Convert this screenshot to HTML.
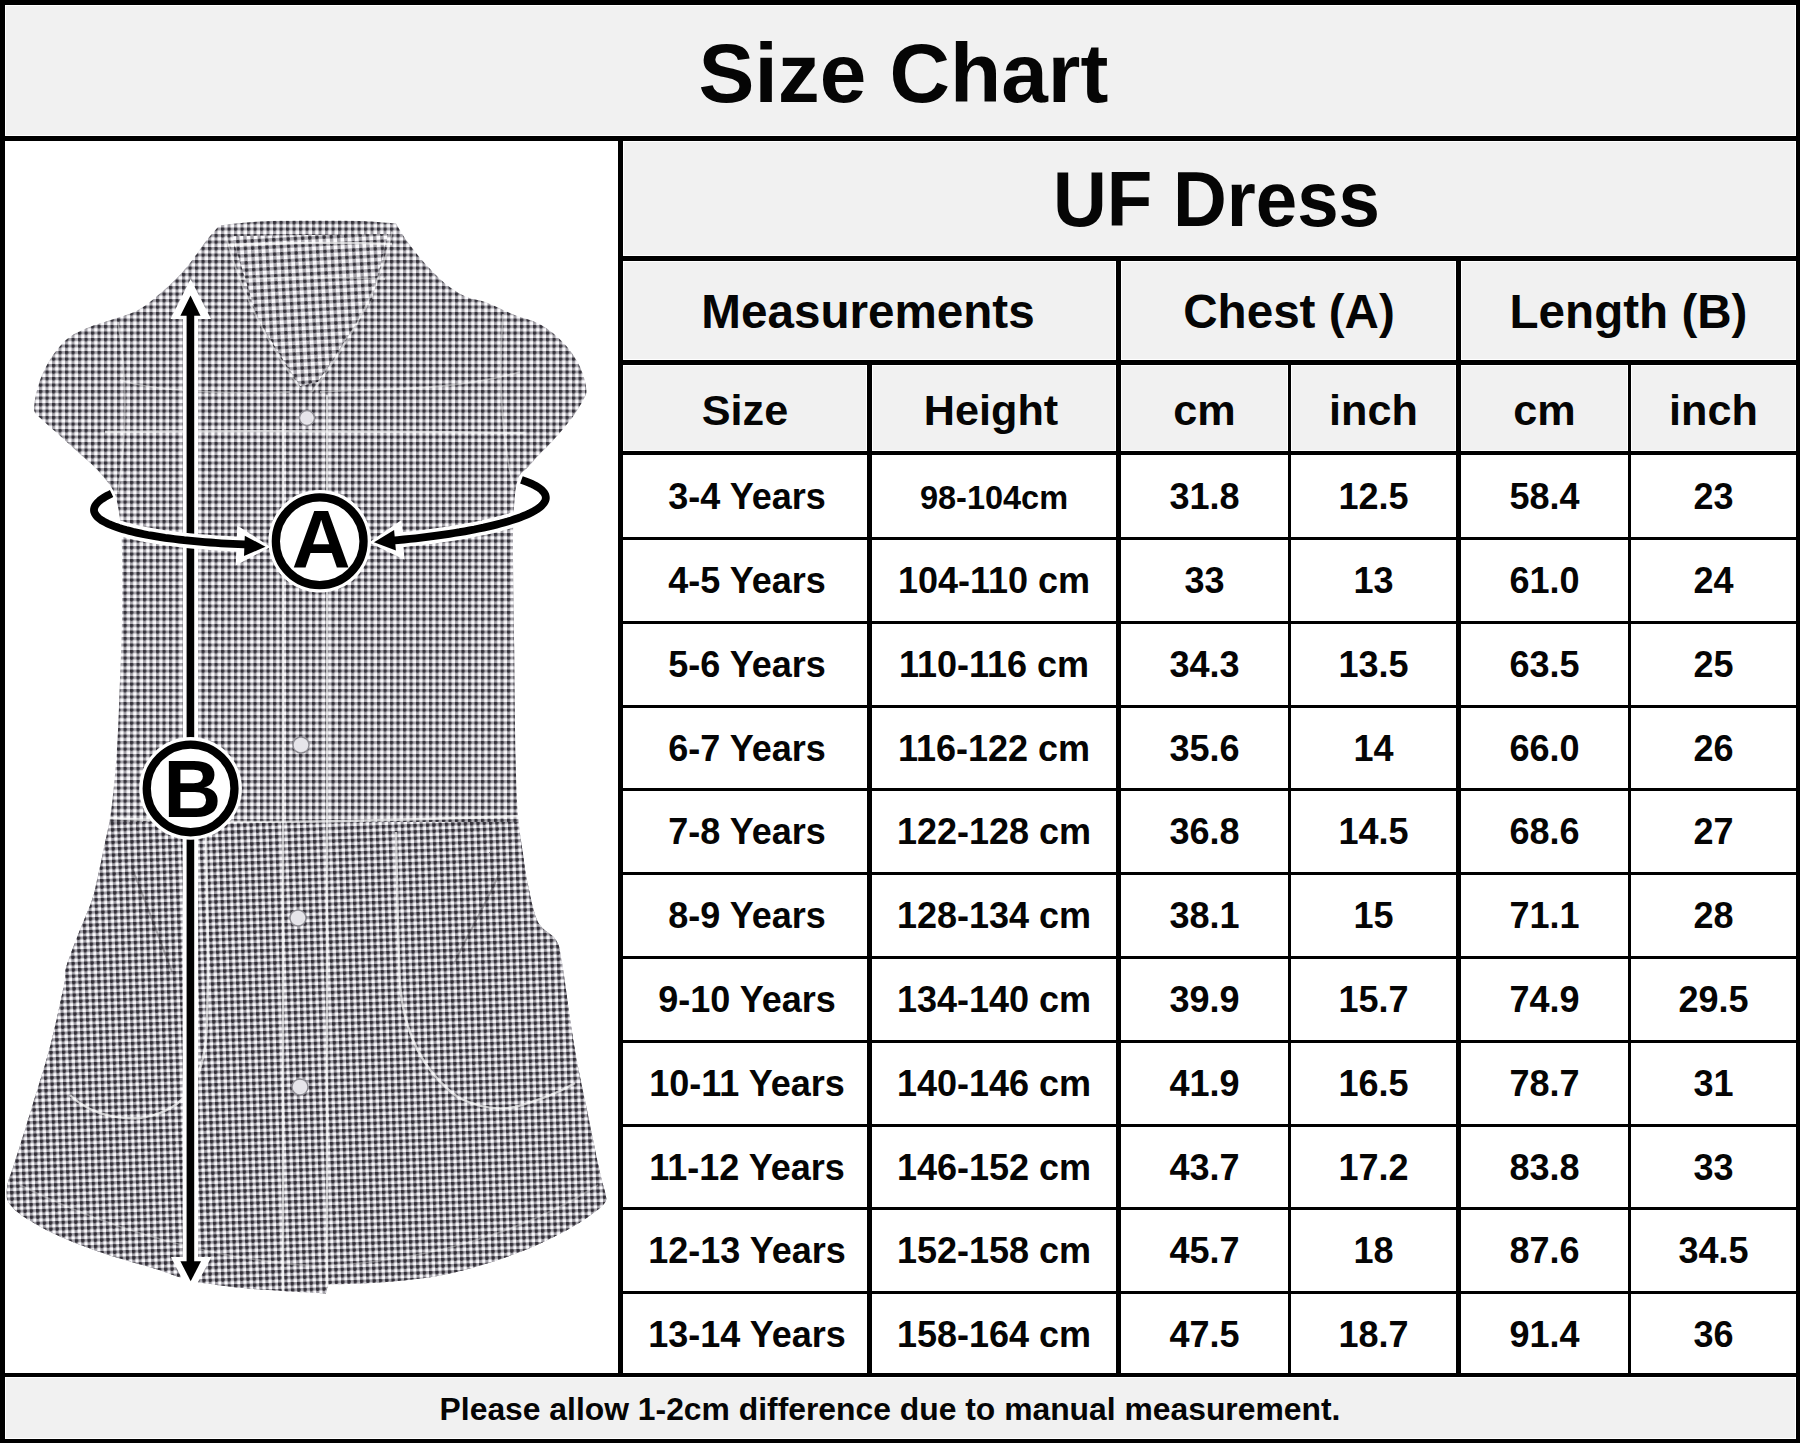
<!DOCTYPE html>
<html><head><meta charset="utf-8"><title>Size Chart</title>
<style>
html,body{margin:0;padding:0;}
body{width:1800px;height:1443px;position:relative;overflow:hidden;background:#000;font-family:"Liberation Sans",sans-serif;font-weight:bold;color:#000;}
.c{position:absolute;box-sizing:border-box;}
.g{background:#f1f1f1;border:1.5px solid #fff;}
.w{background:#fff;}
.t{position:absolute;text-align:center;white-space:nowrap;line-height:1;color:#050505;}
svg{position:absolute;left:0;top:0;}
</style></head><body>
<div class="c g" style="left:5px;top:5px;width:1791px;height:131px"></div>
<div class="c w" style="left:5px;top:141px;width:613px;height:1232px"></div>
<div class="c g" style="left:623px;top:141px;width:1173px;height:115px"></div>
<div class="c g" style="left:623px;top:261px;width:493px;height:99px"></div>
<div class="c g" style="left:1121px;top:261px;width:335px;height:99px"></div>
<div class="c g" style="left:1461px;top:261px;width:335px;height:99px"></div>
<div class="c g" style="left:623px;top:365px;width:244px;height:86px"></div>
<div class="c g" style="left:872px;top:365px;width:244px;height:86px"></div>
<div class="c g" style="left:1121px;top:365px;width:167px;height:86px"></div>
<div class="c g" style="left:1291px;top:365px;width:165px;height:86px"></div>
<div class="c g" style="left:1461px;top:365px;width:167px;height:86px"></div>
<div class="c g" style="left:1631px;top:365px;width:165px;height:86px"></div>
<div class="c w" style="left:623px;top:455px;width:244px;height:82px"></div>
<div class="c w" style="left:872px;top:455px;width:244px;height:82px"></div>
<div class="c w" style="left:1121px;top:455px;width:167px;height:82px"></div>
<div class="c w" style="left:1291px;top:455px;width:165px;height:82px"></div>
<div class="c w" style="left:1461px;top:455px;width:167px;height:82px"></div>
<div class="c w" style="left:1631px;top:455px;width:165px;height:82px"></div>
<div class="c w" style="left:623px;top:540px;width:244px;height:81px"></div>
<div class="c w" style="left:872px;top:540px;width:244px;height:81px"></div>
<div class="c w" style="left:1121px;top:540px;width:167px;height:81px"></div>
<div class="c w" style="left:1291px;top:540px;width:165px;height:81px"></div>
<div class="c w" style="left:1461px;top:540px;width:167px;height:81px"></div>
<div class="c w" style="left:1631px;top:540px;width:165px;height:81px"></div>
<div class="c w" style="left:623px;top:624px;width:244px;height:81px"></div>
<div class="c w" style="left:872px;top:624px;width:244px;height:81px"></div>
<div class="c w" style="left:1121px;top:624px;width:167px;height:81px"></div>
<div class="c w" style="left:1291px;top:624px;width:165px;height:81px"></div>
<div class="c w" style="left:1461px;top:624px;width:167px;height:81px"></div>
<div class="c w" style="left:1631px;top:624px;width:165px;height:81px"></div>
<div class="c w" style="left:623px;top:708px;width:244px;height:80px"></div>
<div class="c w" style="left:872px;top:708px;width:244px;height:80px"></div>
<div class="c w" style="left:1121px;top:708px;width:167px;height:80px"></div>
<div class="c w" style="left:1291px;top:708px;width:165px;height:80px"></div>
<div class="c w" style="left:1461px;top:708px;width:167px;height:80px"></div>
<div class="c w" style="left:1631px;top:708px;width:165px;height:80px"></div>
<div class="c w" style="left:623px;top:791px;width:244px;height:81px"></div>
<div class="c w" style="left:872px;top:791px;width:244px;height:81px"></div>
<div class="c w" style="left:1121px;top:791px;width:167px;height:81px"></div>
<div class="c w" style="left:1291px;top:791px;width:165px;height:81px"></div>
<div class="c w" style="left:1461px;top:791px;width:167px;height:81px"></div>
<div class="c w" style="left:1631px;top:791px;width:165px;height:81px"></div>
<div class="c w" style="left:623px;top:875px;width:244px;height:81px"></div>
<div class="c w" style="left:872px;top:875px;width:244px;height:81px"></div>
<div class="c w" style="left:1121px;top:875px;width:167px;height:81px"></div>
<div class="c w" style="left:1291px;top:875px;width:165px;height:81px"></div>
<div class="c w" style="left:1461px;top:875px;width:167px;height:81px"></div>
<div class="c w" style="left:1631px;top:875px;width:165px;height:81px"></div>
<div class="c w" style="left:623px;top:959px;width:244px;height:81px"></div>
<div class="c w" style="left:872px;top:959px;width:244px;height:81px"></div>
<div class="c w" style="left:1121px;top:959px;width:167px;height:81px"></div>
<div class="c w" style="left:1291px;top:959px;width:165px;height:81px"></div>
<div class="c w" style="left:1461px;top:959px;width:167px;height:81px"></div>
<div class="c w" style="left:1631px;top:959px;width:165px;height:81px"></div>
<div class="c w" style="left:623px;top:1043px;width:244px;height:81px"></div>
<div class="c w" style="left:872px;top:1043px;width:244px;height:81px"></div>
<div class="c w" style="left:1121px;top:1043px;width:167px;height:81px"></div>
<div class="c w" style="left:1291px;top:1043px;width:165px;height:81px"></div>
<div class="c w" style="left:1461px;top:1043px;width:167px;height:81px"></div>
<div class="c w" style="left:1631px;top:1043px;width:165px;height:81px"></div>
<div class="c w" style="left:623px;top:1127px;width:244px;height:80px"></div>
<div class="c w" style="left:872px;top:1127px;width:244px;height:80px"></div>
<div class="c w" style="left:1121px;top:1127px;width:167px;height:80px"></div>
<div class="c w" style="left:1291px;top:1127px;width:165px;height:80px"></div>
<div class="c w" style="left:1461px;top:1127px;width:167px;height:80px"></div>
<div class="c w" style="left:1631px;top:1127px;width:165px;height:80px"></div>
<div class="c w" style="left:623px;top:1210px;width:244px;height:81px"></div>
<div class="c w" style="left:872px;top:1210px;width:244px;height:81px"></div>
<div class="c w" style="left:1121px;top:1210px;width:167px;height:81px"></div>
<div class="c w" style="left:1291px;top:1210px;width:165px;height:81px"></div>
<div class="c w" style="left:1461px;top:1210px;width:167px;height:81px"></div>
<div class="c w" style="left:1631px;top:1210px;width:165px;height:81px"></div>
<div class="c w" style="left:623px;top:1294px;width:244px;height:79px"></div>
<div class="c w" style="left:872px;top:1294px;width:244px;height:79px"></div>
<div class="c w" style="left:1121px;top:1294px;width:167px;height:79px"></div>
<div class="c w" style="left:1291px;top:1294px;width:165px;height:79px"></div>
<div class="c w" style="left:1461px;top:1294px;width:167px;height:79px"></div>
<div class="c w" style="left:1631px;top:1294px;width:165px;height:79px"></div>
<div class="c g" style="left:5px;top:1377px;width:1791px;height:62px"></div>
<svg width="620" height="1443" viewBox="0 0 620 1443">
<defs>
<pattern id="gh" width="6.5" height="6.5" patternUnits="userSpaceOnUse">
<rect width="6.5" height="6.5" fill="#fcfbfe"/>
<rect width="3.1" height="6.5" fill="#a6a4ab"/>
<rect width="6.5" height="3.1" fill="#a6a4ab"/>
<circle cx="1.55" cy="1.55" r="1.9" fill="#34323a"/>
</pattern>
<pattern id="gh2" width="7.2" height="7.2" patternUnits="userSpaceOnUse" patternTransform="rotate(-3)">
<rect width="7.2" height="7.2" fill="#fbfafd"/>
<rect width="3.4" height="7.2" fill="#a9a7ae"/>
<rect width="7.2" height="3.4" fill="#a9a7ae"/>
<circle cx="1.7" cy="1.7" r="1.85" fill="#34323a"/>
</pattern>
<pattern id="gh3" width="6.3" height="6.3" patternUnits="userSpaceOnUse" patternTransform="rotate(-2)">
<rect width="6.3" height="6.3" fill="#fbfafd"/>
<rect width="3.1" height="6.3" fill="#a19fa7"/>
<rect width="6.3" height="3.1" fill="#a19fa7"/>
<circle cx="1.55" cy="1.55" r="1.95" fill="#322f37"/>
</pattern>
<filter id="bl" x="-2%" y="-2%" width="104%" height="104%"><feGaussianBlur stdDeviation="0.7"/></filter>
<clipPath id="dc"><path d="M219.5,225.5 C219.5,225.5 244.9,222.3 260.0,221.5 C275.1,220.7 293.3,220.6 310.0,220.5 C326.7,220.4 345.7,220.5 360.0,221.0 C374.3,221.5 396.0,223.5 396.0,223.5 C396.0,223.5 402.6,235.1 407.3,241.6 C412.0,248.1 417.8,255.5 424.0,262.4 C430.2,269.3 437.8,277.5 444.7,283.2 C451.6,288.9 458.7,293.3 465.5,296.5 C472.3,299.7 477.8,299.2 485.7,302.2 C493.6,305.2 505.6,311.3 513.2,314.4 C520.8,317.4 526.4,318.5 531.5,320.5 C536.6,322.5 539.6,324.1 543.7,326.6 C547.8,329.1 551.9,332.1 555.9,335.7 C559.9,339.2 564.5,343.6 568.0,347.9 C571.5,352.2 574.7,357.0 577.2,361.6 C579.8,366.2 581.8,370.8 583.3,375.4 C584.8,380.0 586.0,385.5 586.3,389.1 C586.5,392.7 586.8,392.7 584.8,397.0 C582.8,401.3 577.9,409.5 574.1,415.0 C570.3,420.5 566.0,425.4 562.0,430.2 C558.0,435.0 553.9,439.7 549.8,444.0 C545.7,448.3 541.2,452.4 537.6,456.2 C534.0,460.0 531.5,463.5 528.4,466.8 C525.3,470.1 521.4,472.1 519.3,476.0 C517.1,479.9 515.5,490.0 515.5,490.0 C515.5,490.0 513.2,508.9 513.0,535.0 C512.8,561.0 513.8,609.3 514.2,646.3 C514.6,683.3 515.0,729.1 515.6,757.2 C516.2,785.3 516.8,798.9 518.0,815.0 C519.2,831.1 521.3,842.3 523.0,854.0 C524.7,865.7 525.5,873.7 528.0,885.0 C530.5,896.3 533.3,912.8 538.0,922.0 C542.7,931.2 552.0,933.2 556.0,940.0 C560.0,946.8 558.9,945.2 562.0,963.0 C565.1,980.8 570.2,1022.6 574.4,1047.0 C578.5,1071.4 582.7,1089.0 586.9,1109.5 C591.1,1130.0 596.5,1156.6 599.4,1170.0 C602.3,1183.4 603.3,1185.2 604.5,1190.0 C605.7,1194.8 606.5,1199.0 606.5,1199.0 C606.5,1199.0 605.8,1203.6 599.4,1208.6 C593.0,1213.6 582.2,1221.8 568.4,1229.2 C554.6,1236.7 536.8,1245.8 516.7,1253.3 C496.6,1260.8 470.8,1269.1 447.8,1274.0 C424.9,1278.9 399.0,1280.8 379.0,1282.6 C359.0,1284.3 328.0,1284.5 328.0,1284.5 C328.0,1284.5 326.0,1293.5 326.0,1293.5 C326.0,1293.5 300.2,1292.2 286.0,1291.2 C271.8,1290.2 256.5,1289.5 241.0,1287.8 C225.5,1286.1 207.3,1284.2 193.0,1281.0 C178.7,1277.8 169.9,1273.4 155.0,1268.8 C140.1,1264.2 120.5,1259.3 103.3,1253.3 C86.1,1247.3 66.0,1239.6 51.7,1232.7 C37.4,1225.8 24.6,1217.6 17.2,1212.0 C9.8,1206.4 7.0,1199.0 7.0,1199.0 C7.0,1199.0 6.1,1191.0 7.5,1184.4 C8.9,1177.8 11.7,1171.9 15.6,1159.4 C19.6,1146.9 25.5,1128.2 31.2,1109.5 C36.9,1090.8 44.4,1067.8 49.9,1047.0 C55.4,1026.2 61.3,998.2 64.0,985.0 C66.7,971.8 64.0,975.5 66.0,968.0 C68.0,960.5 71.7,951.3 76.0,940.0 C80.3,928.7 88.5,910.0 92.0,900.0 C95.5,890.0 95.2,887.6 97.0,880.0 C98.8,872.4 100.3,865.4 102.6,854.2 C104.9,843.0 108.6,828.8 110.9,812.6 C113.2,796.4 115.0,775.7 116.4,757.2 C117.8,738.7 118.3,724.9 119.2,701.8 C120.1,678.7 121.6,646.4 122.0,618.6 C122.4,590.8 122.5,555.3 121.5,535.0 C120.5,514.7 116.0,497.0 116.0,497.0 C116.0,497.0 114.0,491.4 111.5,487.5 C109.0,483.6 104.6,478.1 100.8,473.8 C97.0,469.5 93.2,465.9 88.6,461.6 C84.0,457.3 78.5,452.5 73.4,447.9 C68.3,443.3 63.2,438.7 58.1,434.1 C53.0,429.5 46.8,423.9 42.9,420.4 C39.0,416.8 36.4,415.6 35.0,412.8 C33.6,410.0 34.0,408.3 34.5,403.7 C35.0,399.1 36.4,391.5 38.3,385.4 C40.2,379.3 42.8,372.9 45.9,367.0 C49.0,361.1 52.5,355.4 56.6,350.3 C60.7,345.2 65.0,340.4 70.3,336.6 C75.6,332.8 81.7,330.2 88.6,327.4 C95.5,324.6 103.5,322.5 111.5,319.8 C119.5,317.1 129.1,314.7 136.4,311.0 C143.7,307.3 148.9,302.7 155.1,297.7 C161.3,292.7 167.9,287.0 173.8,281.1 C179.7,275.2 185.1,269.1 190.5,262.4 C195.9,255.7 201.2,247.2 206.0,241.0 C210.8,234.8 219.5,225.5 219.5,225.5Z"/></clipPath>
</defs>
<g filter="url(#bl)">
<path d="M219.5,225.5 C219.5,225.5 244.9,222.3 260.0,221.5 C275.1,220.7 293.3,220.6 310.0,220.5 C326.7,220.4 345.7,220.5 360.0,221.0 C374.3,221.5 396.0,223.5 396.0,223.5 C396.0,223.5 402.6,235.1 407.3,241.6 C412.0,248.1 417.8,255.5 424.0,262.4 C430.2,269.3 437.8,277.5 444.7,283.2 C451.6,288.9 458.7,293.3 465.5,296.5 C472.3,299.7 477.8,299.2 485.7,302.2 C493.6,305.2 505.6,311.3 513.2,314.4 C520.8,317.4 526.4,318.5 531.5,320.5 C536.6,322.5 539.6,324.1 543.7,326.6 C547.8,329.1 551.9,332.1 555.9,335.7 C559.9,339.2 564.5,343.6 568.0,347.9 C571.5,352.2 574.7,357.0 577.2,361.6 C579.8,366.2 581.8,370.8 583.3,375.4 C584.8,380.0 586.0,385.5 586.3,389.1 C586.5,392.7 586.8,392.7 584.8,397.0 C582.8,401.3 577.9,409.5 574.1,415.0 C570.3,420.5 566.0,425.4 562.0,430.2 C558.0,435.0 553.9,439.7 549.8,444.0 C545.7,448.3 541.2,452.4 537.6,456.2 C534.0,460.0 531.5,463.5 528.4,466.8 C525.3,470.1 521.4,472.1 519.3,476.0 C517.1,479.9 515.5,490.0 515.5,490.0 C515.5,490.0 513.2,508.9 513.0,535.0 C512.8,561.0 513.8,609.3 514.2,646.3 C514.6,683.3 515.0,729.1 515.6,757.2 C516.2,785.3 516.8,798.9 518.0,815.0 C519.2,831.1 521.3,842.3 523.0,854.0 C524.7,865.7 525.5,873.7 528.0,885.0 C530.5,896.3 533.3,912.8 538.0,922.0 C542.7,931.2 552.0,933.2 556.0,940.0 C560.0,946.8 558.9,945.2 562.0,963.0 C565.1,980.8 570.2,1022.6 574.4,1047.0 C578.5,1071.4 582.7,1089.0 586.9,1109.5 C591.1,1130.0 596.5,1156.6 599.4,1170.0 C602.3,1183.4 603.3,1185.2 604.5,1190.0 C605.7,1194.8 606.5,1199.0 606.5,1199.0 C606.5,1199.0 605.8,1203.6 599.4,1208.6 C593.0,1213.6 582.2,1221.8 568.4,1229.2 C554.6,1236.7 536.8,1245.8 516.7,1253.3 C496.6,1260.8 470.8,1269.1 447.8,1274.0 C424.9,1278.9 399.0,1280.8 379.0,1282.6 C359.0,1284.3 328.0,1284.5 328.0,1284.5 C328.0,1284.5 326.0,1293.5 326.0,1293.5 C326.0,1293.5 300.2,1292.2 286.0,1291.2 C271.8,1290.2 256.5,1289.5 241.0,1287.8 C225.5,1286.1 207.3,1284.2 193.0,1281.0 C178.7,1277.8 169.9,1273.4 155.0,1268.8 C140.1,1264.2 120.5,1259.3 103.3,1253.3 C86.1,1247.3 66.0,1239.6 51.7,1232.7 C37.4,1225.8 24.6,1217.6 17.2,1212.0 C9.8,1206.4 7.0,1199.0 7.0,1199.0 C7.0,1199.0 6.1,1191.0 7.5,1184.4 C8.9,1177.8 11.7,1171.9 15.6,1159.4 C19.6,1146.9 25.5,1128.2 31.2,1109.5 C36.9,1090.8 44.4,1067.8 49.9,1047.0 C55.4,1026.2 61.3,998.2 64.0,985.0 C66.7,971.8 64.0,975.5 66.0,968.0 C68.0,960.5 71.7,951.3 76.0,940.0 C80.3,928.7 88.5,910.0 92.0,900.0 C95.5,890.0 95.2,887.6 97.0,880.0 C98.8,872.4 100.3,865.4 102.6,854.2 C104.9,843.0 108.6,828.8 110.9,812.6 C113.2,796.4 115.0,775.7 116.4,757.2 C117.8,738.7 118.3,724.9 119.2,701.8 C120.1,678.7 121.6,646.4 122.0,618.6 C122.4,590.8 122.5,555.3 121.5,535.0 C120.5,514.7 116.0,497.0 116.0,497.0 C116.0,497.0 114.0,491.4 111.5,487.5 C109.0,483.6 104.6,478.1 100.8,473.8 C97.0,469.5 93.2,465.9 88.6,461.6 C84.0,457.3 78.5,452.5 73.4,447.9 C68.3,443.3 63.2,438.7 58.1,434.1 C53.0,429.5 46.8,423.9 42.9,420.4 C39.0,416.8 36.4,415.6 35.0,412.8 C33.6,410.0 34.0,408.3 34.5,403.7 C35.0,399.1 36.4,391.5 38.3,385.4 C40.2,379.3 42.8,372.9 45.9,367.0 C49.0,361.1 52.5,355.4 56.6,350.3 C60.7,345.2 65.0,340.4 70.3,336.6 C75.6,332.8 81.7,330.2 88.6,327.4 C95.5,324.6 103.5,322.5 111.5,319.8 C119.5,317.1 129.1,314.7 136.4,311.0 C143.7,307.3 148.9,302.7 155.1,297.7 C161.3,292.7 167.9,287.0 173.8,281.1 C179.7,275.2 185.1,269.1 190.5,262.4 C195.9,255.7 201.2,247.2 206.0,241.0 C210.8,234.8 219.5,225.5 219.5,225.5Z" fill="url(#gh)"/>
<g clip-path="url(#dc)">
<rect x="0" y="822" width="620" height="480" fill="url(#gh3)"/>
<path d="M232,236 L388,234 L372,300 L318,382 L300,386 L258,320 Z" fill="url(#gh2)"/>
<path d="M228,245 C280,243 340,242 392,244" fill="none" stroke="#ffffff" stroke-opacity="0.7" stroke-width="2.4"/>
<path d="M240,279 C290,277 340,277 385,279" fill="none" stroke="#ffffff" stroke-opacity="0.45" stroke-width="1.8"/>
<path d="M226,236 C240,290 265,340 300,388" fill="none" stroke="#ffffff" stroke-opacity="0.45" stroke-width="1.8"/>
<path d="M392,232 C380,290 350,340 312,392" fill="none" stroke="#ffffff" stroke-opacity="0.45" stroke-width="1.8"/>
<path d="M120,380 C150,390 220,395 290,392" fill="none" stroke="#ffffff" stroke-opacity="0.45" stroke-width="1.8"/>
<path d="M320,392 C380,388 450,392 520,372" fill="none" stroke="#ffffff" stroke-opacity="0.45" stroke-width="1.8"/>
<path d="M105,432 C200,431 300,430 525,433" fill="none" stroke="#ffffff" stroke-opacity="0.7" stroke-width="2.4"/>
<path d="M118,322 C128,380 126,440 118,492" fill="none" stroke="#ffffff" stroke-opacity="0.45" stroke-width="1.8"/>
<path d="M503,314 C498,380 502,440 514,490" fill="none" stroke="#ffffff" stroke-opacity="0.45" stroke-width="1.8"/>
<path d="M108,818 C200,823 300,824 522,816" fill="none" stroke="#ffffff" stroke-opacity="0.7" stroke-width="2.4"/>
<path d="M283,420 L283,1292" fill="none" stroke="#ffffff" stroke-opacity="0.7" stroke-width="2.4"/>
<path d="M327,395 L327,1286" fill="none" stroke="#ffffff" stroke-opacity="0.7" stroke-width="2.4"/>
<path d="M206,834 C207,900 210,980 206,1040 C200,1090 180,1112 140,1118 C110,1120 85,1110 70,1095" fill="none" stroke="#ffffff" stroke-opacity="0.7" stroke-width="2.4"/>
<path d="M132,868 C145,900 160,940 172,972" fill="none" stroke="#2a282e" stroke-opacity="0.35" stroke-width="2"/>
<path d="M396,832 C397,880 398,940 400,985 C404,1030 420,1070 459,1098 C480,1108 500,1110 515,1107 C540,1100 560,1092 575,1083" fill="none" stroke="#ffffff" stroke-opacity="0.7" stroke-width="2.4"/>
<path d="M500,872 C488,900 470,930 455,962" fill="none" stroke="#2a282e" stroke-opacity="0.35" stroke-width="2"/>
<path d="M20,1185 C120,1235 230,1262 320,1266 C420,1262 520,1235 598,1185" fill="none" stroke="#ffffff" stroke-opacity="0.35" stroke-width="1.8"/>
</g>
</g>
<circle cx="307" cy="418" r="7.5" fill="#e6e5ea" stroke="#8e8d94" stroke-width="1.4"/>
<circle cx="301" cy="745" r="8" fill="#e6e5ea" stroke="#8e8d94" stroke-width="1.4"/>
<circle cx="298" cy="918" r="8" fill="#e6e5ea" stroke="#8e8d94" stroke-width="1.4"/>
<circle cx="300" cy="1087" r="8" fill="#e6e5ea" stroke="#8e8d94" stroke-width="1.4"/>
<rect x="182.6" y="310" width="15.6" height="955" fill="#fff"/>
<path d="M190.6,279 L211,319 L170.5,319 Z" fill="#fff"/>
<path d="M190.6,1296 L211.5,1257 L171,1257 Z" fill="#fff"/>
<rect x="186.6" y="312" width="7.6" height="952" fill="#000"/>
<path d="M190.5,295.5 L200.5,315.7 L180.4,315.7 Z" fill="#000"/>
<path d="M190.7,1281.3 L201,1261.3 L180.4,1261.3 Z" fill="#000"/>
<path d="M111.6,493.6 L109.3,494.7 L107.1,495.8 L105.1,496.9 L103.2,498.1 L101.5,499.2 L100.0,500.3 L98.7,501.5 L97.5,502.6 L96.5,503.8 L95.7,504.9 L95.0,506.0 L94.5,507.2 L94.2,508.3 L94.0,509.4 L94.0,510.6 L94.2,511.7 L94.6,512.8 L95.1,513.9 L95.8,515.0 L96.7,516.1 L97.7,517.2 L98.9,518.3 L100.3,519.3 L101.8,520.4 L103.5,521.4 L105.4,522.4 L107.5,523.5 L109.6,524.5 L112.0,525.4 L114.5,526.4 L117.2,527.3 L120.0,528.3 L123.0,529.2 L126.1,530.1 L129.4,530.9 L132.8,531.8 L136.4,532.6 L140.1,533.4 L143.9,534.2 L147.9,535.0 L152.0,535.7 L156.2,536.4 L160.6,537.1 L165.1,537.8 L169.7,538.4 L174.4,539.0 L179.2,539.6 L184.1,540.2 L189.1,540.7 L194.3,541.2 L199.5,541.7 L204.8,542.1 L210.2,542.5 L215.7,542.9 L221.2,543.3 L226.9,543.6 L232.6,543.9 L238.4,544.2 L244.2,544.4 L250.1,544.6" fill="none" stroke="#fff" stroke-width="15" stroke-linecap="butt"/>
<path d="M391.7,540.7 L397.8,540.1 L403.9,539.5 L409.8,538.9 L415.7,538.3 L421.5,537.6 L427.3,536.9 L432.9,536.2 L438.5,535.4 L443.9,534.6 L449.3,533.8 L454.5,533.0 L459.7,532.2 L464.7,531.3 L469.6,530.4 L474.4,529.5 L479.0,528.5 L483.5,527.6 L487.9,526.6 L492.2,525.6 L496.3,524.6 L500.3,523.6 L504.1,522.5 L507.7,521.5 L511.3,520.4 L514.6,519.3 L517.8,518.2 L520.8,517.1 L523.7,515.9 L526.4,514.8 L529.0,513.7 L531.3,512.5 L533.5,511.3 L535.5,510.2 L537.4,509.0 L539.0,507.8 L540.5,506.7 L541.8,505.5 L542.9,504.3 L543.9,503.1 L544.6,501.9 L545.2,500.7 L545.6,499.6 L545.8,498.4 L545.8,497.2 L545.6,496.0 L545.3,494.9 L544.7,493.7 L544.0,492.6 L543.1,491.5 L542.0,490.3 L540.8,489.2 L539.3,488.1 L537.7,487.0 L535.9,486.0 L533.9,484.9 L531.7,483.8 L529.4,482.8 L526.9,481.8 L524.2,480.8 L521.4,479.8" fill="none" stroke="#fff" stroke-width="15" stroke-linecap="butt"/>
<path d="M270.5,546.9 L235.7,565.6 L237.3,525.6 Z" fill="#fff"/>
<path d="M369.0,542.4 L401.5,519.9 L404.5,559.7 Z" fill="#fff"/>
<path d="M111.6,493.6 L109.3,494.7 L107.1,495.8 L105.1,496.9 L103.2,498.1 L101.5,499.2 L100.0,500.3 L98.7,501.5 L97.5,502.6 L96.5,503.8 L95.7,504.9 L95.0,506.0 L94.5,507.2 L94.2,508.3 L94.0,509.4 L94.0,510.6 L94.2,511.7 L94.6,512.8 L95.1,513.9 L95.8,515.0 L96.7,516.1 L97.7,517.2 L98.9,518.3 L100.3,519.3 L101.8,520.4 L103.5,521.4 L105.4,522.4 L107.5,523.5 L109.6,524.5 L112.0,525.4 L114.5,526.4 L117.2,527.3 L120.0,528.3 L123.0,529.2 L126.1,530.1 L129.4,530.9 L132.8,531.8 L136.4,532.6 L140.1,533.4 L143.9,534.2 L147.9,535.0 L152.0,535.7 L156.2,536.4 L160.6,537.1 L165.1,537.8 L169.7,538.4 L174.4,539.0 L179.2,539.6 L184.1,540.2 L189.1,540.7 L194.3,541.2 L199.5,541.7 L204.8,542.1 L210.2,542.5 L215.7,542.9 L221.2,543.3 L226.9,543.6 L232.6,543.9 L238.4,544.2 L244.2,544.4 L250.1,544.6" fill="none" stroke="#000" stroke-width="7.8" stroke-linecap="butt"/>
<path d="M391.7,540.7 L397.8,540.1 L403.9,539.5 L409.8,538.9 L415.7,538.3 L421.5,537.6 L427.3,536.9 L432.9,536.2 L438.5,535.4 L443.9,534.6 L449.3,533.8 L454.5,533.0 L459.7,532.2 L464.7,531.3 L469.6,530.4 L474.4,529.5 L479.0,528.5 L483.5,527.6 L487.9,526.6 L492.2,525.6 L496.3,524.6 L500.3,523.6 L504.1,522.5 L507.7,521.5 L511.3,520.4 L514.6,519.3 L517.8,518.2 L520.8,517.1 L523.7,515.9 L526.4,514.8 L529.0,513.7 L531.3,512.5 L533.5,511.3 L535.5,510.2 L537.4,509.0 L539.0,507.8 L540.5,506.7 L541.8,505.5 L542.9,504.3 L543.9,503.1 L544.6,501.9 L545.2,500.7 L545.6,499.6 L545.8,498.4 L545.8,497.2 L545.6,496.0 L545.3,494.9 L544.7,493.7 L544.0,492.6 L543.1,491.5 L542.0,490.3 L540.8,489.2 L539.3,488.1 L537.7,487.0 L535.9,486.0 L533.9,484.9 L531.7,483.8 L529.4,482.8 L526.9,481.8 L524.2,480.8 L521.4,479.8" fill="none" stroke="#000" stroke-width="7.8" stroke-linecap="butt"/>
<path d="M265.5,546.7 L244.0,556.1 L244.8,535.7 Z" fill="#000"/>
<path d="M374.0,542.2 L394.1,530.1 L395.9,550.5 Z" fill="#000"/>
<circle cx="319.7" cy="541.2" r="51.3" fill="#fff"/>
<circle cx="319.7" cy="541.2" r="43.85" fill="#fff" stroke="#000" stroke-width="8.3"/>
<circle cx="190.6" cy="788.4" r="51.3" fill="#fff"/>
<circle cx="190.6" cy="788.4" r="43.85" fill="#fff" stroke="#000" stroke-width="8.3"/>
<text x="321.1" y="566.7" font-family="Liberation Sans" font-weight="bold" font-size="81.5" text-anchor="middle" fill="#000">A</text>
<text x="192.3" y="817" font-family="Liberation Sans" font-weight="bold" font-size="82.5" text-anchor="middle" fill="#000" transform="translate(192.3 0) scale(0.97 1) translate(-192.3 0)">B</text>
</svg>
<div class="t" style="left:0px;width:1807px;top:32.16px;font-size:83.8px;">Size Chart</div>
<div class="t" style="left:623px;width:1187px;top:163.54px;font-size:74.5px;transform:scaleY(1.035);transform-origin:50% 84.65%;">UF Dress</div>
<div class="t" style="left:620px;width:496px;top:287.71px;font-size:47.6px;">Measurements</div>
<div class="t" style="left:1122px;width:334px;top:287.71px;font-size:47.6px;">Chest (A)</div>
<div class="t" style="left:1461px;width:335px;top:287.71px;font-size:47.6px;">Length (B)</div>
<div class="t" style="left:623px;width:244px;top:388.83px;font-size:43.2px;">Size</div>
<div class="t" style="left:866px;width:250px;top:388.83px;font-size:43.2px;">Height</div>
<div class="t" style="left:1121px;width:167px;top:388.83px;font-size:43.2px;">cm</div>
<div class="t" style="left:1291px;width:165px;top:388.83px;font-size:43.2px;">inch</div>
<div class="t" style="left:1461px;width:167px;top:388.83px;font-size:43.2px;">cm</div>
<div class="t" style="left:1631px;width:165px;top:388.83px;font-size:43.2px;">inch</div>
<div class="t" style="left:625px;width:244px;top:479.13px;font-size:36px;">3-4 Years</div>
<div class="t" style="left:872px;width:244px;top:482.09px;font-size:32.5px;letter-spacing:0px;">98-104cm</div>
<div class="t" style="left:1121px;width:167px;top:479.13px;font-size:36px;">31.8</div>
<div class="t" style="left:1291px;width:165px;top:479.13px;font-size:36px;">12.5</div>
<div class="t" style="left:1461px;width:167px;top:479.13px;font-size:36px;">58.4</div>
<div class="t" style="left:1631px;width:165px;top:479.13px;font-size:36px;">23</div>
<div class="t" style="left:625px;width:244px;top:562.93px;font-size:36px;">4-5 Years</div>
<div class="t" style="left:872px;width:244px;top:562.93px;font-size:36px;">104-110 cm</div>
<div class="t" style="left:1121px;width:167px;top:562.93px;font-size:36px;">33</div>
<div class="t" style="left:1291px;width:165px;top:562.93px;font-size:36px;">13</div>
<div class="t" style="left:1461px;width:167px;top:562.93px;font-size:36px;">61.0</div>
<div class="t" style="left:1631px;width:165px;top:562.93px;font-size:36px;">24</div>
<div class="t" style="left:625px;width:244px;top:646.73px;font-size:36px;">5-6 Years</div>
<div class="t" style="left:872px;width:244px;top:646.73px;font-size:36px;">110-116 cm</div>
<div class="t" style="left:1121px;width:167px;top:646.73px;font-size:36px;">34.3</div>
<div class="t" style="left:1291px;width:165px;top:646.73px;font-size:36px;">13.5</div>
<div class="t" style="left:1461px;width:167px;top:646.73px;font-size:36px;">63.5</div>
<div class="t" style="left:1631px;width:165px;top:646.73px;font-size:36px;">25</div>
<div class="t" style="left:625px;width:244px;top:730.53px;font-size:36px;">6-7 Years</div>
<div class="t" style="left:872px;width:244px;top:730.53px;font-size:36px;">116-122 cm</div>
<div class="t" style="left:1121px;width:167px;top:730.53px;font-size:36px;">35.6</div>
<div class="t" style="left:1291px;width:165px;top:730.53px;font-size:36px;">14</div>
<div class="t" style="left:1461px;width:167px;top:730.53px;font-size:36px;">66.0</div>
<div class="t" style="left:1631px;width:165px;top:730.53px;font-size:36px;">26</div>
<div class="t" style="left:625px;width:244px;top:814.33px;font-size:36px;">7-8 Years</div>
<div class="t" style="left:872px;width:244px;top:814.33px;font-size:36px;">122-128 cm</div>
<div class="t" style="left:1121px;width:167px;top:814.33px;font-size:36px;">36.8</div>
<div class="t" style="left:1291px;width:165px;top:814.33px;font-size:36px;">14.5</div>
<div class="t" style="left:1461px;width:167px;top:814.33px;font-size:36px;">68.6</div>
<div class="t" style="left:1631px;width:165px;top:814.33px;font-size:36px;">27</div>
<div class="t" style="left:625px;width:244px;top:898.13px;font-size:36px;">8-9 Years</div>
<div class="t" style="left:872px;width:244px;top:898.13px;font-size:36px;">128-134 cm</div>
<div class="t" style="left:1121px;width:167px;top:898.13px;font-size:36px;">38.1</div>
<div class="t" style="left:1291px;width:165px;top:898.13px;font-size:36px;">15</div>
<div class="t" style="left:1461px;width:167px;top:898.13px;font-size:36px;">71.1</div>
<div class="t" style="left:1631px;width:165px;top:898.13px;font-size:36px;">28</div>
<div class="t" style="left:625px;width:244px;top:981.93px;font-size:36px;">9-10 Years</div>
<div class="t" style="left:872px;width:244px;top:981.93px;font-size:36px;">134-140 cm</div>
<div class="t" style="left:1121px;width:167px;top:981.93px;font-size:36px;">39.9</div>
<div class="t" style="left:1291px;width:165px;top:981.93px;font-size:36px;">15.7</div>
<div class="t" style="left:1461px;width:167px;top:981.93px;font-size:36px;">74.9</div>
<div class="t" style="left:1631px;width:165px;top:981.93px;font-size:36px;">29.5</div>
<div class="t" style="left:625px;width:244px;top:1065.73px;font-size:36px;">10-11 Years</div>
<div class="t" style="left:872px;width:244px;top:1065.73px;font-size:36px;">140-146 cm</div>
<div class="t" style="left:1121px;width:167px;top:1065.73px;font-size:36px;">41.9</div>
<div class="t" style="left:1291px;width:165px;top:1065.73px;font-size:36px;">16.5</div>
<div class="t" style="left:1461px;width:167px;top:1065.73px;font-size:36px;">78.7</div>
<div class="t" style="left:1631px;width:165px;top:1065.73px;font-size:36px;">31</div>
<div class="t" style="left:625px;width:244px;top:1149.53px;font-size:36px;">11-12 Years</div>
<div class="t" style="left:872px;width:244px;top:1149.53px;font-size:36px;">146-152 cm</div>
<div class="t" style="left:1121px;width:167px;top:1149.53px;font-size:36px;">43.7</div>
<div class="t" style="left:1291px;width:165px;top:1149.53px;font-size:36px;">17.2</div>
<div class="t" style="left:1461px;width:167px;top:1149.53px;font-size:36px;">83.8</div>
<div class="t" style="left:1631px;width:165px;top:1149.53px;font-size:36px;">33</div>
<div class="t" style="left:625px;width:244px;top:1233.33px;font-size:36px;">12-13 Years</div>
<div class="t" style="left:872px;width:244px;top:1233.33px;font-size:36px;">152-158 cm</div>
<div class="t" style="left:1121px;width:167px;top:1233.33px;font-size:36px;">45.7</div>
<div class="t" style="left:1291px;width:165px;top:1233.33px;font-size:36px;">18</div>
<div class="t" style="left:1461px;width:167px;top:1233.33px;font-size:36px;">87.6</div>
<div class="t" style="left:1631px;width:165px;top:1233.33px;font-size:36px;">34.5</div>
<div class="t" style="left:625px;width:244px;top:1317.13px;font-size:36px;">13-14 Years</div>
<div class="t" style="left:872px;width:244px;top:1317.13px;font-size:36px;">158-164 cm</div>
<div class="t" style="left:1121px;width:167px;top:1317.13px;font-size:36px;">47.5</div>
<div class="t" style="left:1291px;width:165px;top:1317.13px;font-size:36px;">18.7</div>
<div class="t" style="left:1461px;width:167px;top:1317.13px;font-size:36px;">91.4</div>
<div class="t" style="left:1631px;width:165px;top:1317.13px;font-size:36px;">36</div>
<div class="t" style="left:5px;width:1770px;top:1393.54px;font-size:31.85px;">Please allow 1-2cm difference due to manual measurement.</div>
</body></html>
